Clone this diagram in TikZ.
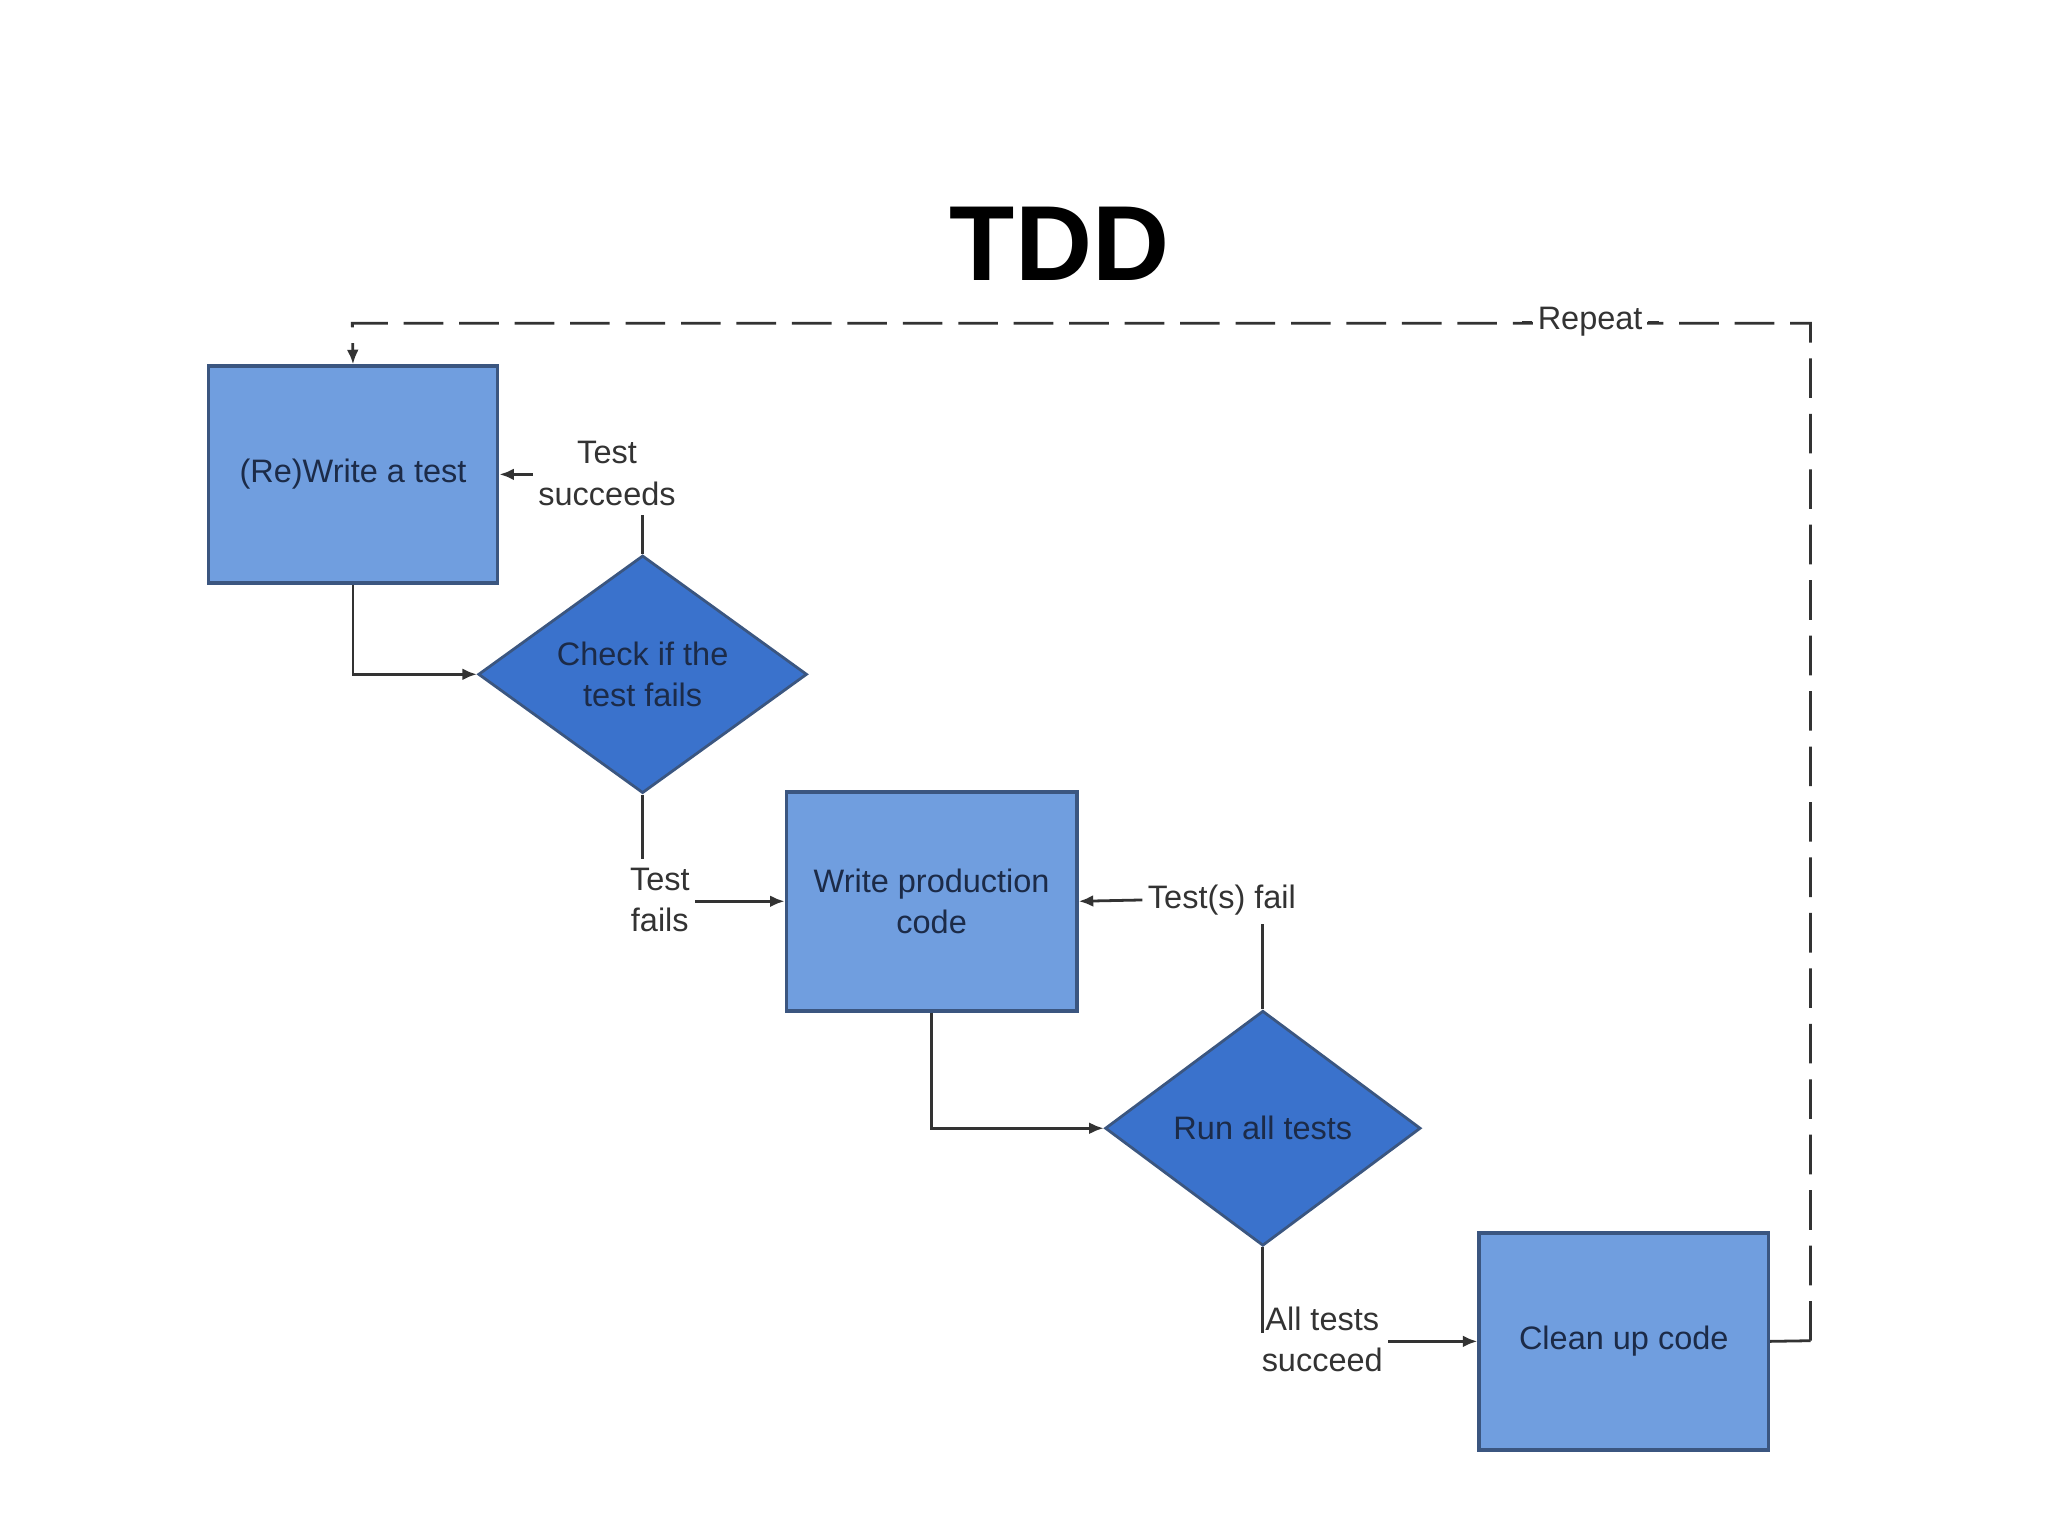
\documentclass[tikz,border=0pt]{standalone}
\usepackage{fontspec}
\setmainfont{Liberation Sans}
\usetikzlibrary{shapes.geometric,arrows.meta}
\definecolor{boxfill}{HTML}{709EDF}
\definecolor{boxline}{HTML}{3B5680}
\definecolor{diafill}{HTML}{3A72CC}
\definecolor{txt}{HTML}{1C2B48}
\begin{document}
\begin{tikzpicture}[x=0.01cm,y=-0.01cm,
  stepbox/.style={rectangle,draw=boxline,line width=0.8pt,fill=boxfill,minimum width=2.19cm,minimum height=1.64cm,align=center,text=txt,font=\fontsize{7}{9}\selectfont},
  decision/.style={diamond,draw=boxline,line width=0.6pt,fill=diafill,minimum width=2.49cm,minimum height=1.8cm,inner sep=0pt,align=center,text=txt,font=\fontsize{7}{9}\selectfont},
  lbl/.style={align=center,text=black!80,font=\fontsize{7}{9}\selectfont,inner sep=1pt},
  conn/.style={draw=black!80,line width=0.6pt},
  arr/.style={conn,-{Latex[length=1.1mm,width=0.9mm]}}]
\useasboundingbox[fill=white] (0,0) rectangle (1552,1164);
\node[font=\bfseries\fontsize{23}{26}\selectfont] (title) at (803,185) {TDD};
\node[stepbox] (b1) at (267.5,359.5) {(Re)Write a test};
\node[decision] (d1) at (487,511) {Check if the\\test fails};
\node[stepbox,minimum height=1.66cm,minimum width=2.2cm] (b2) at (706,683) {Write production\\code};
\node[decision,minimum width=2.39cm,minimum height=1.78cm] (d2) at (957,855) {Run all tests};
\node[stepbox] (b3) at (1230.5,1016.5) {Clean up code};
% labels
\node[lbl] (l1) at (460,359) {Test\\succeeds};
\node[lbl] (l2) at (500,682) {Test\\fails};
\node[lbl] (l3) at (926,682) {Test(s) fail};
\node[lbl] (l4) at (1002,1015) {All tests\\succeed};
\coordinate (c1) at (487,390);
\coordinate (c2) at (487,651);
\coordinate (c3) at (957,700);
\coordinate (c4) at (957,1010);
% connectors
\draw[arr] (b1.south) |- (d1.west);
\draw[conn] (d1.north) -- (c1);
\draw[arr] (l1.west |- b1.east) -- (b1.east);
\draw[conn] (d1.south) -- (c2);
\draw[arr] (l2.east |- b2.west) -- (b2.west);
\draw[arr] (b2.south) |- (d2.west);
\draw[conn] (d2.north) -- (c3);
\draw[arr] (l3.west) -- (b2.east);
\draw[conn] (d2.south) -- (c4);
\draw[arr] (l4.east |- b3.west) -- (b3.west);
\coordinate (r1) at (1372,1016);
\coordinate (r2) at (1372,245);
\coordinate (r3) at (267,245);
\draw[conn] (b3.east) -- (r1);
\draw[arr,dash pattern=on 9mm off 0mm,dash pattern=on 0.3cm off 0.12cm] (r1) -- (r2) -- (r3) -- (b1.north);
\node[lbl,fill=white] (rep) at (1205,244) {Repeat};
\draw[conn] (rep.west) -- ++(-8,0);
\draw[conn] (rep.east) -- ++(8,0);
\end{tikzpicture}
\end{document}
